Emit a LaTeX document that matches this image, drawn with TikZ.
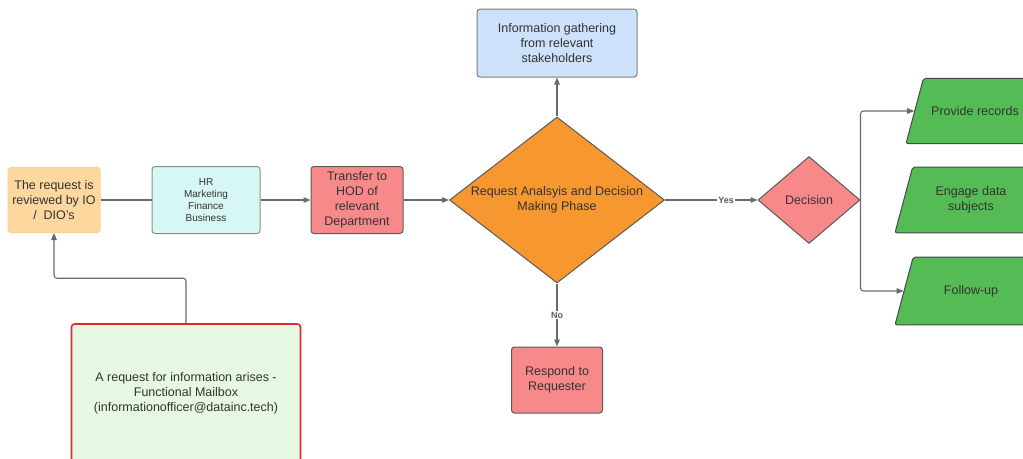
\documentclass[tikz,border=0pt]{standalone}
\usepackage{fontspec}
\setmainfont{Liberation Sans}
\usetikzlibrary{arrows.meta,positioning,shapes.geometric}
\definecolor{flowInk}{HTML}{333333}
\definecolor{flowEdge}{HTML}{5A5A5A}
\definecolor{flowLine}{HTML}{6A6A6A}
\definecolor{flowPeach}{HTML}{FCD79E}
\definecolor{flowAqua}{HTML}{D7F7F5}
\definecolor{flowRose}{HTML}{F8898B}
\definecolor{flowOrange}{HTML}{F7972F}
\definecolor{flowSky}{HTML}{CEE1FA}
\definecolor{flowGreen}{HTML}{55BC55}
\definecolor{flowMint}{HTML}{E6F8E1}
\definecolor{flowRed}{HTML}{DE2A2E}
\tikzset{
  flow diagram/.style={x=1pt, y=-1pt, font=\fontsize{12.5}{15}\selectfont,
    text=flowInk, line join=round},
  flow box/.style={draw=flowEdge, line width=1pt, rounded corners=3pt,
    align=center, inner sep=2pt},
  flow choice/.style={diamond, draw=flowEdge, line width=1pt, inner sep=0pt,
    align=center},
  flow output/.style={trapezium, trapezium left angle=75, trapezium right angle=105,
    trapezium stretches body=true, draw=flowEdge!80!black, line width=1pt,
    rounded corners=2pt, fill=flowGreen, align=center, inner xsep=2pt,
    inner ysep=28pt},
  flow line/.style={draw=flowLine, line width=1.1pt},
  flow arrow/.style={flow line, -{Triangle[length=7pt,width=5.5pt]}},
  flow tag/.style={font=\fontsize{9}{10}\selectfont\bfseries, text=flowEdge,
    fill=white, inner sep=1pt}
}
\begin{document}
\begin{tikzpicture}[flow diagram]
\useasboundingbox (0,0) rectangle (1023,458);
\clip (0,0) rectangle (1023,458);
% left column
\node[flow box, draw=flowPeach!92!orange, fill=flowPeach, minimum width=92pt,
  minimum height=65pt] (review) at (54,200) {The request is\\reviewed by IO\\/ \ DIO's};
\node[flow box, draw=flowRed, line width=1.6pt, fill=flowMint, minimum width=229pt,
  minimum height=138pt] (request) at (186,393)
  {A request for information arises -\\Functional Mailbox\\(informationofficer@datainc.tech)};
% main row
\node[flow box, draw=flowEdge!70, fill=flowAqua, font=\fontsize{10}{12}\selectfont,
  minimum width=108pt, minimum height=67pt] (dept) at (206,200) {HR\\Marketing\\Finance\\Business};
\node[flow box, fill=flowRose, minimum width=92pt, minimum height=67pt] (transfer)
  at (357,200) {Transfer to\\HOD of\\relevant\\Department};
\node[flow choice, fill=flowOrange, minimum width=215pt, minimum height=166pt] (analysis)
  at (557,200) {\makebox[0pt]{\begin{tabular}{@{}c@{}}Request Analsyis and Decision\\
  Making Phase\end{tabular}}};
\node[flow box, draw=flowEdge!80, fill=flowSky, minimum width=160pt, minimum height=68pt]
  (gather) at (557,43) {Information gathering\\from relevant\\stakeholders};
\node[flow box, fill=flowRose, minimum width=91pt, minimum height=66pt] (respond)
  at (557,380) {Respond to\\Requester};
\node[flow choice, fill=flowRose, minimum width=102pt, minimum height=87pt] (decision)
  at (809,200) {Decision};
% outcomes
\node[flow output, minimum width=138pt] (provide) at (975,111) {Provide records};
\node[flow output, minimum width=152pt, inner ysep=19.5pt] (engage) at (971,200)
  {Engage data\\subjects};
\node[flow output, minimum width=152pt] (followup) at (971,291) {Follow-up};
% connectors
\draw[flow line] (review) -- (dept);
\draw[flow arrow] (dept) -- (transfer);
\draw[flow arrow] (transfer) -- (analysis);
\draw[flow arrow] (analysis) -- (gather);
\draw[flow arrow] (analysis) -- node[flow tag] {No} (respond);
\draw[flow arrow] (analysis) -- node[flow tag, pos=0.66] {Yes} (decision);
\draw[flow arrow, rounded corners=3pt] (decision.east) |- (provide.west);
\draw[flow arrow, rounded corners=3pt] (decision.east) |- (followup.west);
\draw[flow arrow, rounded corners=3pt] (request.north) -- ++(0,-45) -| (review.south);
\end{tikzpicture}
\end{document}
